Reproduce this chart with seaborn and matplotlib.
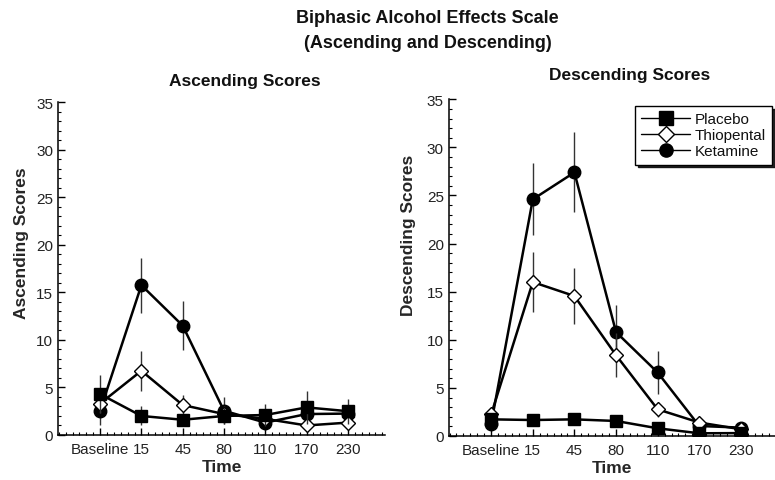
import numpy as np
import pandas as pd
import matplotlib
matplotlib.use("Agg")
import matplotlib.pyplot as plt
from matplotlib.ticker import MultipleLocator
import seaborn as sns

# Datos (media y error)
time_labels = ['Baseline', '15', '45', '80', '110', '170', '230']
drugs = ['Placebo', 'Thiopental', 'Ketamine']

asc_placebo = [4.3, 2.0, 1.6, 2.0, 2.1, 2.9, 2.5]
asc_placebo_err = [2.0, 1.0, 0.6, 0.8, 1.2, 1.7, 1.3]
asc_thiopental = [3.3, 6.75, 3.15, 2.2, 1.7, 1.0, 1.3]
asc_thiopental_err = [1.0, 2.1, 1.05, 0.8, 0.6, 0.5, 0.5]
asc_ketamine = [2.55, 15.75, 11.5, 2.55, 1.3, 2.2, 2.25]
asc_ketamine_err = [1.5, 2.9, 2.6, 1.4, 0.8, 0.8, 0.8]

desc_placebo = [1.73, 1.66, 1.73, 1.56, 0.8, 0.28, 0.3]
desc_placebo_err = [0.4, 0.4, 0.5, 0.4, 0.3, 0.2, 0.2]
desc_thiopental = [2.25, 16.0, 14.55, 8.4, 2.77, 1.4, 0.7]
desc_thiopental_err = [0.5, 3.15, 2.9, 2.3, 0.8, 0.4, 0.3]
desc_ketamine = [1.28, 24.6, 27.4, 10.8, 6.6, 1.04, 0.87]
desc_ketamine_err = [0.5, 3.75, 4.15, 2.8, 2.2, 0.4, 0.3]


def to_long(series, errors):
    filas = []
    for drug, vals, errs in zip(drugs, series, errors):
        for i, (v, e) in enumerate(zip(vals, errs)):
            filas.append({'Drug': drug, 'pos': i, 'Time': time_labels[i],
                          'Score': v, 'err': e})
    return pd.DataFrame(filas)


df_asc = to_long([asc_placebo, asc_thiopental, asc_ketamine],
                 [asc_placebo_err, asc_thiopental_err, asc_ketamine_err])
df_desc = to_long([desc_placebo, desc_thiopental, desc_ketamine],
                  [desc_placebo_err, desc_thiopental_err, desc_ketamine_err])

sns.set_theme(style="ticks")
plt.rcParams['font.family'] = ['Liberation Sans', 'DejaVu Sans']
plt.rcParams['text.color'] = '#111111'

fig = plt.figure(figsize=(7.75, 4.81), dpi=100)
ax1 = fig.add_axes([0.0748, 0.0936, 0.422, 0.692])
ax2 = fig.add_axes([0.579, 0.0915, 0.421, 0.700])

markers = {'Placebo': 's', 'Thiopental': 'D', 'Ketamine': 'o'}
sizes = {'Placebo': 9, 'Thiopental': 7.5, 'Ketamine': 9}
faces = {'Placebo': 'black', 'Thiopental': 'white', 'Ketamine': 'black'}
orden = ['Ketamine', 'Thiopental', 'Placebo']  # placebo queda encima

paneles = [(ax1, df_asc, 'Ascending Scores', 6.9, -0.09, 0.58),
           (ax2, df_desc, 'Descending Scores', 6.82, -0.10, 0.60)]
for ax, df, ylabel, xmax, xlab, ylab in paneles:
    for z, drug in enumerate(orden):
        d = df[df['Drug'] == drug]
        ax.errorbar(d['pos'], d['Score'], yerr=d['err'], fmt='none',
                    ecolor='#333333', elinewidth=1.0, capsize=0, zorder=2 + z)
        sns.lineplot(data=d, x='pos', y='Score', ax=ax, color='black',
                     linewidth=1.8, marker=markers[drug],
                     markersize=sizes[drug], markerfacecolor=faces[drug],
                     markeredgecolor='black', markeredgewidth=1.0,
                     zorder=3 + z, legend=False)

    ax.set_xlim(-1.02, xmax)
    ax.set_ylim(0, 35)
    ax.set_xticks(range(len(time_labels)))
    ax.set_xticklabels(time_labels)
    ax.xaxis.set_minor_locator(MultipleLocator(1 / 6))
    ax.yaxis.set_major_locator(MultipleLocator(5))
    ax.yaxis.set_minor_locator(MultipleLocator(1))
    ax.tick_params(axis='both', which='major', direction='in', length=5,
                   width=1.0, labelsize=11, colors='black',
                   labelcolor='#222222')
    ax.tick_params(axis='both', which='minor', direction='in', length=2.5,
                   width=0.8, colors='black')
    ax.tick_params(axis='x', which='major', pad=5)
    sns.despine(ax=ax)
    for s in ['left', 'bottom']:
        ax.spines[s].set_linewidth(1.1)
        ax.spines[s].set_color('black')
    ax.set_xlabel('Time', fontsize=12.5, fontweight='bold', labelpad=2)
    ax.set_ylabel(ylabel, fontsize=12.5, fontweight='bold')
    ax.yaxis.set_label_coords(xlab, ylab)

# Títulos
fig.text(0.552, 0.962, 'Biphasic Alcohol Effects Scale', ha='center',
         va='center', fontsize=13, fontweight='bold')
fig.text(0.552, 0.910, '(Ascending and Descending)', ha='center',
         va='center', fontsize=13, fontweight='bold')
fig.text(0.316, 0.830, 'Ascending Scores', ha='center', va='center',
         fontsize=12.5, fontweight='bold')
fig.text(0.812, 0.843, 'Descending Scores', ha='center', va='center',
         fontsize=12.5, fontweight='bold')

# Leyenda con sombra
handles = [plt.Line2D([], [], color='black', linewidth=1.0,
                      marker=markers[d], markersize=sizes[d] + 0.5,
                      markerfacecolor=faces[d], markeredgecolor='black',
                      markeredgewidth=1.0) for d in drugs]
leg = ax2.legend(handles, drugs, loc='upper right',
                 bbox_to_anchor=(0.996, 0.778), bbox_transform=fig.transFigure,
                 fontsize=11, frameon=True, fancybox=False,
                 shadow={'color': 'black', 'alpha': 0.85},
                 handlelength=3.2, handletextpad=0.3, labelspacing=0.15,
                 borderpad=0.4, borderaxespad=0)
leg.get_frame().set_edgecolor('black')
leg.get_frame().set_linewidth(1.0)

plt.savefig('out.png', dpi=100)
